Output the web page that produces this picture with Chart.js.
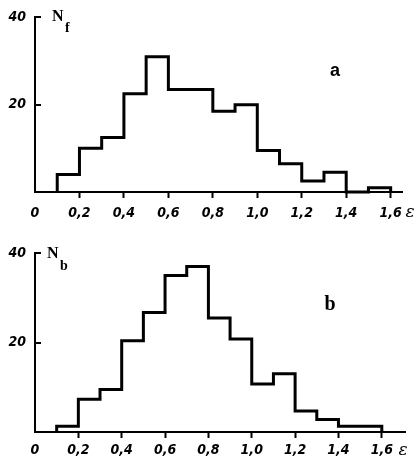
<!DOCTYPE html>
<html>
<head>
<meta charset="utf-8">
<script src="https://cdn.jsdelivr.net/npm/chart.js@4.4.0/dist/chart.umd.min.js"></script>
<style>
  html, body { margin: 0; padding: 0; background: #fff; }
  .panel { width: 414px; height: 232px; }
  canvas { display: block; }
</style>
</head>
<body>
<div class="panel"><canvas id="chart-a" width="414" height="232"></canvas></div>
<div class="panel"><canvas id="chart-b" width="414" height="232"></canvas></div>
<script>
// bin edges (epsilon) and counts
const binEdges = [0.1, 0.2, 0.3, 0.4, 0.5, 0.6, 0.7, 0.8, 0.9, 1.0, 1.1, 1.2, 1.3, 1.4, 1.5, 1.6];
const countsF = [4, 10, 12.5, 22.5, 31, 23.5, 23.5, 18.5, 20, 9.5, 6.5, 2.5, 4.5, 0, 1];
const countsB = [1.3, 7.3, 9.5, 20.4, 26.7, 35, 37, 25.5, 20.8, 10.7, 13, 4.7, 2.8, 1.3, 1.3];
const xTicks = [0, 0.2, 0.4, 0.6, 0.8, 1.0, 1.2, 1.4, 1.6];
const yTicks = [20, 40];

const tickFont = {
    family: '"Liberation Sans Narrow", "DejaVu Sans Condensed", "Liberation Sans", sans-serif',
    size: 14,
    weight: 'bold',
    style: 'italic'
};

// outline of the histogram as a stepped line
function histPoints(counts) {
    const pts = [{ x: binEdges[0], y: 0 }];
    counts.forEach((c, i) => pts.push({ x: binEdges[i], y: c }));
    pts.push({ x: binEdges[binEdges.length - 1], y: 0 });
    return pts;
}

// inside y ticks plus the N / letter / epsilon labels
const decor = {
    id: 'decor',
    afterDraw: function(chart, args, opts) {
        const ctx = chart.ctx;
        const area = chart.chartArea;
        const y = chart.scales.y;
        ctx.save();
        ctx.strokeStyle = '#000';
        ctx.lineWidth = 2;
        yTicks.forEach(v => {
            const py = Math.round(y.getPixelForValue(v));
            ctx.beginPath();
            ctx.moveTo(area.left, py);
            ctx.lineTo(area.left + 6, py);
            ctx.stroke();
        });

        ctx.fillStyle = '#000';
        ctx.textBaseline = 'alphabetic';
        ctx.textAlign = 'left';
        ctx.font = 'bold 16px "Liberation Serif", serif';
        ctx.fillText('N', opts.nX, opts.nY);
        ctx.font = 'bold 14px "Liberation Serif", serif';
        ctx.fillText(opts.sub, opts.subX, opts.subY);

        ctx.textAlign = 'center';
        ctx.font = opts.letterFont;
        ctx.fillText(opts.letter, opts.letterX, opts.letterY);

        ctx.textBaseline = 'middle';
        ctx.font = 'italic 17px "DejaVu Serif", serif';
        ctx.fillText('ε', opts.epsX, opts.epsY);
        ctx.restore();
    }
};

function makeChart(id, counts, p) {
    return new Chart(document.getElementById(id), {
        type: 'line',
        data: {
            datasets: [{
                data: histPoints(counts),
                stepped: 'before',
                borderColor: '#000',
                borderWidth: 3,
                borderJoinStyle: 'miter',
                pointRadius: 0,
                fill: false,
                clip: false
            }]
        },
        options: {
            responsive: false,
            animation: false,
            layout: { padding: { top: p.top, right: p.right, left: 0, bottom: 0 } },
            plugins: {
                legend: { display: false },
                tooltip: { enabled: false },
                decor: p.decor
            },
            scales: {
                x: {
                    type: 'linear',
                    min: 0,
                    max: p.xMax,
                    afterBuildTicks: s => { s.ticks = xTicks.map(v => ({ value: v })); },
                    afterFit: s => { s.height = p.xHeight; },
                    ticks: {
                        color: '#000',
                        font: tickFont,
                        padding: p.xPad,
                        maxRotation: 0,
                        autoSkip: false,
                        callback: v => v === 0 ? '0' : v.toFixed(1).replace('.', ',')
                    },
                    grid: {
                        drawOnChartArea: false,
                        drawTicks: true,
                        tickLength: 6,
                        tickWidth: 2,
                        tickColor: c => (c.tick && c.tick.value === 0) ? 'rgba(0,0,0,0)' : '#000'
                    },
                    border: { display: true, color: '#000', width: 2 }
                },
                y: {
                    min: 0,
                    max: 40,
                    afterBuildTicks: s => { s.ticks = yTicks.map(v => ({ value: v })); },
                    afterFit: s => { s.width = 35; },
                    ticks: {
                        color: '#000',
                        font: tickFont,
                        padding: 9,
                        callback: v => String(v)
                    },
                    grid: { drawOnChartArea: false, drawTicks: false },
                    border: { display: true, color: '#000', width: 2 }
                }
            }
        },
        plugins: [decor]
    });
}

makeChart('chart-a', countsF, {
    top: 17, right: 12, xMax: 1.651, xHeight: 40, xPad: 7,
    decor: {
        sub: 'f', nX: 52, nY: 21, subX: 65, subY: 32,
        letter: 'a', letterX: 335, letterY: 76,
        letterFont: 'bold 18px "Liberation Sans", sans-serif',
        epsX: 410, epsY: 213
    }
});

makeChart('chart-b', countsB, {
    top: 21, right: 9, xMax: 1.707, xHeight: 32, xPad: 4,
    decor: {
        sub: 'b', nX: 47, nY: 26, subX: 60, subY: 38,
        letter: 'b', letterX: 330, letterY: 78,
        letterFont: 'bold 20px "Liberation Serif", serif',
        epsX: 403, epsY: 219
    }
});
</script>
</body>
</html>
